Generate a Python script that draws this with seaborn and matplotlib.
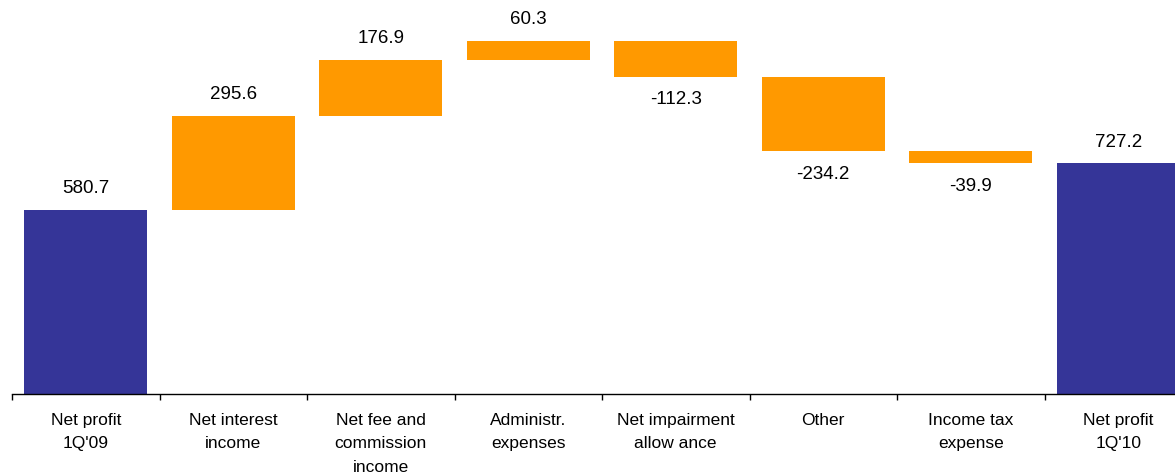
import pandas as pd
import matplotlib.pyplot as plt
import seaborn as sns
import numpy as np

# Waterfall data
categories = ['Net profit\n1Q\'09', 'Net interest\nincome', 'Net fee and\ncommission\nincome',
              'Administr.\nexpenses', 'Net impairment\nallow ance', 'Other',
              'Income tax\nexpense', 'Net profit\n1Q\'10']
changes = [580.7, 295.6, 176.9, 60.3, -112.3, -234.2, -39.9, 727.2]
is_total = [True, False, False, False, False, False, False, True]

# bottoms / heights for each bar
bottoms, heights = [], []
running = 0.0
for val, tot in zip(changes, is_total):
    if tot:
        bottoms.append(0.0)
        heights.append(val)
        running = val
    else:
        bottoms.append(min(running, running + val))
        heights.append(abs(val))
        running += val

df = pd.DataFrame({'category': categories, 'height': heights, 'bottom': bottoms})

sns.set_style('white')
plt.rcParams['font.family'] = ['Liberation Sans', 'DejaVu Sans']
plt.rcParams['text.color'] = 'black'
plt.rcParams['xtick.color'] = 'black'

fig = plt.figure(figsize=(11.75, 4.77), dpi=100)
ax = fig.add_axes([12 / 1175, 82 / 477, 1180 / 1175, 395 / 477])

blue = '#353598'
orange = '#FF9900'
sns.barplot(data=df, x='category', y='height', bottom=np.array(bottoms),
            order=categories, color=orange, width=0.834, saturation=1, ax=ax)
for patch, tot in zip(ax.patches, is_total):
    patch.set_facecolor(blue if tot else orange)
    patch.set_edgecolor('none')

# Value labels
for i, (val, tot) in enumerate(zip(changes, is_total)):
    top = bottoms[i] + heights[i]
    if val >= 0:
        ax.annotate(f'{val:.1f}', (i, top), xytext=(0, 10), textcoords='offset points',
                    ha='center', va='bottom', fontsize=13.5, color='black')
    else:
        ax.annotate(f'{val:.1f}', (i, bottoms[i]), xytext=(0, -10), textcoords='offset points',
                    ha='center', va='top', fontsize=13.5, color='black')

ax.set_xlim(-0.5, 7.5)
ax.set_ylim(0, 1246)
ax.set_xlabel('')
ax.set_ylabel('')
ax.set_yticks([])
ax.set_xticks(range(len(categories)))
ax.set_xticklabels(categories, fontsize=12.5, linespacing=1.7, va='top', color='black')
ax.tick_params(axis='x', which='major', length=0, pad=13)
ax.set_xticks(np.arange(-0.5, 7.0, 1.0), minor=True)
ax.tick_params(axis='x', which='minor', length=4, width=1, direction='out', color='black', bottom=True)

for s in ['left', 'right', 'top']:
    ax.spines[s].set_visible(False)
ax.spines['bottom'].set_color('black')
ax.spines['bottom'].set_linewidth(1)

plt.savefig('out.png', dpi=100)
plt.close()
